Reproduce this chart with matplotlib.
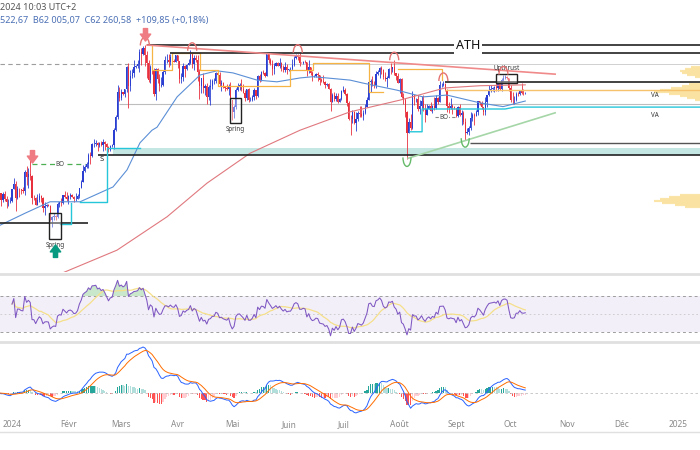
import numpy as np
import pandas as pd
import matplotlib
matplotlib.use("Agg")
import matplotlib.pyplot as plt
from matplotlib.patches import Arc, Rectangle
from matplotlib.path import Path
from matplotlib.lines import Line2D
from matplotlib.transforms import ScaledTranslation

plt.rcParams['font.family'] = ['Noto Sans', 'DejaVu Sans']

# --- Tageskerzen BTC (Tausend USD), 25.12.2023 bis 09.10.2024 ---
first_day = -7          # Tage relativ zum 01.01.2024
first_open = 42.99

close = [
    43.60, 42.50, 43.45, 42.60, 42.10, 42.15, 42.28,  # Dez
    44.18, 44.95, 42.85, 44.18, 44.16, 43.97, 43.93, 46.97, 46.12, 46.66, 46.35, 42.85, 42.84, 41.73, 42.51, 43.15,
    42.74, 41.26, 41.62, 41.66, 41.58, 39.57, 39.90, 40.08, 39.94, 41.82, 42.12, 42.03, 43.30, 42.95, 42.58,  # Jan
    43.08, 43.19, 43.00, 42.58, 42.66, 43.08, 44.34, 45.29, 47.15, 47.77, 48.29, 49.96, 49.70, 51.81, 51.91, 52.16,
    51.66, 52.12, 51.78, 52.26, 51.84, 51.30, 50.73, 51.57, 51.73, 54.52, 57.09, 62.50, 61.20,  # Feb
    62.44, 62.03, 63.17, 68.33, 63.80, 66.11, 66.93, 68.30, 68.50, 69.02, 72.12, 71.48, 73.10, 71.40, 69.40, 65.30,
    68.39, 67.61, 61.93, 67.84, 65.50, 63.80, 64.10, 67.23, 69.96, 69.99, 69.45, 70.74, 69.90, 69.65, 71.33,  # Mär
    69.70, 65.45, 65.98, 68.50, 67.84, 68.90, 69.36, 71.62, 69.15, 70.59, 70.06, 67.19, 63.82, 65.74, 63.42, 63.81,
    61.28, 63.51, 63.84, 64.94, 64.94, 66.84, 66.41, 64.29, 64.50, 63.77, 63.46, 63.12, 63.84, 60.64,  # Apr
    58.25, 59.12, 62.89, 63.89, 64.03, 63.16, 62.33, 61.19, 63.07, 60.79, 60.81, 61.45, 62.90, 61.55, 66.25, 65.23,
    67.05, 66.94, 66.28, 71.45, 70.14, 69.12, 67.93, 68.52, 69.39, 68.51, 69.39, 68.37, 67.65, 68.35, 67.49,  # Mai
    67.75, 67.76, 68.80, 70.57, 71.08, 70.79, 69.34, 69.31, 69.65, 69.50, 67.32, 68.24, 66.76, 66.01, 66.19, 66.64,
    66.49, 65.14, 64.96, 64.83, 64.10, 64.26, 63.16, 60.28, 61.80, 60.86, 61.67, 60.32, 60.89, 62.68,  # Jun
    62.85, 62.03, 60.17, 56.66, 56.64, 58.23, 55.85, 56.71, 58.05, 57.72, 57.34, 57.88, 59.20, 60.79, 64.72, 65.04,
    64.09, 63.97, 66.70, 67.15, 68.19, 67.55, 65.93, 65.37, 65.78, 67.91, 67.81, 68.26, 66.78, 66.19, 64.63,  # Jul
    65.35, 61.42, 60.68, 58.12, 53.99, 56.04, 55.03, 61.71, 60.88, 60.94, 58.71, 59.35, 60.61, 58.74, 57.56, 58.87,
    59.47, 58.48, 59.49, 59.01, 61.16, 60.38, 64.09, 64.18, 64.24, 62.83, 59.42, 59.03, 59.38, 59.12, 58.97,  # Aug
    57.33, 59.13, 57.49, 57.97, 56.16, 53.95, 54.14, 54.84, 57.02, 57.65, 57.34, 58.13, 60.57, 60.01, 59.18, 58.21,
    60.31, 61.76, 62.95, 63.20, 63.35, 63.58, 63.34, 64.26, 63.15, 65.18, 65.77, 65.86, 65.60, 63.30,  # Sep
    60.80, 60.63, 60.75, 62.08, 62.06, 62.82, 62.22, 62.15, 62.26,  # Okt
]
high = [
    43.9, 43.6, 43.7, 43.8, 43.1, 42.6, 42.9,
    44.2, 45.9, 45.5, 44.7, 44.4, 44.2, 44.5, 47.2, 47.9, 47.7, 49.0, 46.5, 43.3, 43.0, 43.4, 43.6,
    43.2, 42.9, 42.2, 41.9, 41.9, 41.7, 40.1, 40.5, 40.3, 42.2, 42.2, 42.8, 43.3, 43.9, 43.7,
    43.3, 43.5, 43.4, 43.1, 43.5, 43.4, 44.4, 45.6, 48.2, 48.2, 48.6, 50.3, 50.4, 52.0, 52.8, 52.6,
    52.2, 52.3, 52.5, 52.9, 52.4, 52.0, 51.5, 51.7, 51.9, 54.9, 57.5, 64.0, 63.7,
    63.2, 62.5, 63.2, 68.5, 69.2, 67.6, 67.9, 70.1, 68.7, 70.0, 72.8, 73.0, 73.6, 73.8, 72.4, 70.0,
    68.9, 68.9, 68.1, 68.0, 68.2, 66.6, 65.9, 67.5, 71.1, 71.6, 71.7, 71.5, 70.9, 70.3, 71.4,
    71.4, 69.7, 66.9, 69.3, 68.7, 69.0, 70.3, 72.7, 71.7, 71.2, 71.3, 71.2, 67.9, 65.8, 66.8, 64.3,
    64.5, 64.1, 65.5, 65.4, 65.7, 67.2, 67.2, 67.0, 65.3, 64.8, 63.9, 64.3, 64.2, 64.7,
    60.8, 59.6, 63.3, 64.5, 64.6, 65.5, 64.4, 62.9, 63.2, 63.4, 61.4, 61.8, 63.4, 63.0, 66.4, 66.6,
    67.4, 67.5, 67.0, 71.5, 71.9, 70.6, 70.0, 69.2, 69.5, 69.5, 70.6, 69.6, 68.9, 69.5, 69.0,
    67.8, 68.4, 70.2, 71.0, 71.7, 71.6, 71.9, 69.6, 69.9, 70.1, 69.5, 70.0, 68.4, 67.3, 66.4, 66.9,
    67.2, 66.1, 65.7, 66.5, 65.0, 64.5, 64.5, 63.4, 62.3, 62.4, 62.3, 62.2, 61.2, 63.0,
    63.8, 63.3, 62.2, 60.5, 57.5, 58.5, 58.3, 58.2, 58.3, 59.4, 59.5, 58.5, 59.8, 61.3, 64.9, 65.4,
    66.1, 65.1, 67.4, 67.6, 68.4, 68.5, 67.8, 67.1, 66.1, 68.2, 69.4, 68.3, 70.0, 66.9, 66.8,
    65.6, 65.6, 62.2, 61.1, 58.3, 57.0, 57.7, 62.7, 61.7, 61.2, 61.8, 60.7, 61.5, 61.8, 59.8, 59.8,
    59.6, 60.2, 59.6, 61.4, 61.8, 61.4, 64.9, 64.5, 65.0, 64.5, 63.2, 60.2, 61.2, 59.9, 59.4,
    59.0, 59.4, 59.8, 58.5, 58.3, 56.9, 54.9, 55.3, 58.1, 58.0, 57.9, 58.6, 60.6, 60.6, 60.4, 59.2,
    61.3, 61.8, 64.1, 64.1, 63.6, 63.9, 64.7, 64.5, 64.8, 65.8, 66.5, 66.3, 66.1, 65.6,
    64.1, 62.4, 61.5, 62.5, 62.4, 62.9, 64.5, 63.2, 62.52,
]
low = [
    42.7, 41.6, 42.1, 42.3, 41.3, 41.6, 41.97,
    42.2, 44.2, 40.8, 42.6, 42.9, 43.4, 43.6, 43.2, 44.8, 44.3, 45.6, 41.8, 42.5, 41.7, 41.7, 42.1,
    42.2, 40.7, 40.3, 41.4, 41.5, 39.4, 38.5, 39.5, 39.5, 39.8, 41.4, 41.6, 41.8, 42.7, 42.3,
    41.9, 42.6, 42.9, 42.2, 42.3, 42.6, 42.8, 44.3, 45.3, 47.0, 47.6, 47.7, 48.3, 49.5, 51.3, 51.6,
    50.6, 51.3, 51.5, 50.6, 50.8, 50.9, 50.5, 50.6, 51.3, 50.9, 54.4, 56.7, 60.4,
    60.8, 61.8, 61.3, 62.4, 59.0, 62.8, 65.6, 66.0, 68.0, 68.2, 67.2, 68.7, 71.3, 68.6, 65.6, 64.8,
    64.6, 66.6, 61.5, 60.8, 64.6, 62.8, 63.6, 63.8, 66.6, 69.3, 68.4, 68.9, 69.1, 69.6, 69.6,
    68.2, 64.6, 64.5, 65.1, 66.0, 67.5, 68.9, 69.1, 68.2, 67.5, 69.6, 65.1, 61.0, 62.3, 62.3, 61.8,
    59.8, 60.8, 59.6, 63.2, 64.3, 64.5, 65.9, 63.8, 62.8, 63.3, 62.8, 62.9, 61.8, 59.2,
    56.6, 56.9, 58.8, 62.6, 62.9, 62.8, 62.2, 60.6, 60.8, 60.2, 60.4, 60.6, 60.8, 61.0, 61.3, 64.8,
    65.1, 66.6, 65.9, 66.1, 69.2, 68.9, 66.3, 66.6, 68.5, 68.5, 68.2, 67.3, 67.1, 67.2, 66.7,
    67.4, 67.3, 67.6, 68.6, 70.2, 70.1, 68.5, 69.2, 69.1, 69.2, 66.1, 66.9, 66.3, 65.1, 65.9, 66.0,
    65.1, 64.1, 64.7, 64.5, 63.4, 63.9, 63.1, 58.4, 60.3, 60.6, 60.6, 60.0, 60.3, 60.7,
    62.5, 61.8, 59.5, 56.5, 53.5, 56.0, 55.7, 54.3, 56.3, 57.2, 57.1, 56.6, 57.8, 59.5, 60.7, 62.4,
    63.9, 63.3, 63.3, 66.5, 65.8, 66.6, 65.4, 65.1, 63.5, 65.8, 66.7, 67.0, 66.5, 65.3, 64.5,
    62.3, 61.2, 59.9, 57.2, 49.1, 53.9, 54.6, 54.8, 59.6, 60.3, 58.4, 57.7, 58.5, 58.4, 56.2, 57.7,
    58.8, 58.4, 57.9, 58.6, 58.8, 59.8, 60.3, 63.6, 63.8, 62.7, 58.1, 57.9, 58.8, 57.8, 58.7,
    57.2, 57.1, 57.4, 55.6, 55.7, 52.6, 53.7, 53.6, 54.6, 56.4, 55.6, 57.3, 57.6, 59.7, 58.7, 57.5,
    57.6, 59.2, 61.7, 62.4, 62.8, 62.4, 62.7, 62.7, 62.9, 62.7, 64.9, 65.4, 65.5, 62.8,
    60.2, 59.9, 59.8, 60.5, 61.7, 61.9, 62.1, 61.8, 62.0,
]

# Gleitende Durchschnitte (Stützstellen)
ma50_days = [-6.6, 7.1, 20.9, 37.4, 55.5, 63.2, 70.3, 76.9, 79.7, 90.7, 103.3, 112.6, 121.4, 134.6,
             145.6, 158.2, 165.4, 185.7, 192.9, 211.5, 225.8, 239, 257.1, 269.8, 282]
ma50_vals = [38.8, 40.5, 42.2, 42.2, 44.5, 47.3, 52.1, 54.5, 55.1, 61.4, 66.4, 67.4, 66.9, 65.2,
             64.8, 65.7, 66.0, 65.2, 64.5, 62.9, 61.4, 61.8, 60.1, 59.3, 60.5]
ma200_days = [20.9, 26.4, 57.7, 85.2, 107.1, 130.8, 158.2, 185.7, 213.2, 237.9, 257.1, 282]
ma200_vals = [31.7, 32.6, 35.5, 40.0, 45.1, 50.2, 54.5, 58.2, 60.7, 63.4, 63.9, 64.1]

# Volumenprofil rechts (Preis, Länge in Tagen)
vp_prices = [68.3, 67.8, 67.4, 66.9, 66.4, 65.9,
             64.3, 63.8, 63.4, 62.9, 62.5, 62.0, 61.6, 61.2, 60.7,
             43.2, 42.9, 42.6, 42.3, 42.0, 41.7, 41.4]
vp_len = [5, 8, 11, 10, 7, 3,
          6, 10, 16, 22, 25, 17, 11, 7, 3,
          11, 17, 22, 25, 21, 14, 8]

# Markierungen
arc_days = [73, 99, 157, 210, 237, 270]
arc_prices = [73.8, 72.4, 71.9, 70.0, 65.0, 66.5]
v_days = [217, 249]
v_prices = [49.1, 52.6]

month_ticks = [0, 31, 60, 91, 121, 152, 182, 213, 244, 274, 305, 335, 366]
month_labels = ["2024", "Févr", "Mars", "Avr", "Mai", "Juin", "Juil", "Août", "Sept", "Oct", "Nov", "Déc", "2025"]

# --- Berechnungen ---
c = np.array(close)
days = first_day + np.arange(len(c))
o = np.concatenate([[first_open], c[:-1]])
h = np.maximum(np.array(high), np.maximum(o, c))
l = np.minimum(np.array(low), np.minimum(o, c))

s = pd.Series(c)
delta = s.diff()
gain = delta.clip(lower=0).ewm(alpha=1 / 14, adjust=True).mean()
loss = (-delta.clip(upper=0)).ewm(alpha=1 / 14, adjust=True).mean()
rsi = 100 - 100 / (1 + gain / loss)
rsi[:7] = np.nan   # Einschwingphase ausblenden
rsi_ma = rsi.rolling(14, min_periods=1).mean()

macd = s.ewm(span=12, adjust=False).mean() - s.ewm(span=26, adjust=False).mean()
signal = macd.ewm(span=9, adjust=False).mean()
hist = macd - signal
prev = hist.shift(1).fillna(0)
hist_col = np.where(hist >= 0, np.where(hist >= prev, '#26A69A', '#B2DFDB'),
                    np.where(hist < prev, '#FF5252', '#FFCDD2'))

UP, DOWN = '#2A3FD1', '#E8303D'
cols = np.where(c >= o, UP, DOWN)

# --- Figur ---
fig = plt.figure(figsize=(7, 4.5), dpi=100)
H = 450.0
ax = fig.add_axes([0, (H - 272) / H, 1, 272 / H])
ax_rsi = fig.add_axes([0, (H - 340) / H, 1, 65 / H], sharex=ax)
ax_macd = fig.add_axes([0, (H - 418) / H, 1, 75 / H], sharex=ax)
for a in (ax, ax_rsi, ax_macd):
    for sp in a.spines.values():
        sp.set_visible(False)
    a.tick_params(left=False, labelleft=False, bottom=False, labelbottom=False)
    a.set_xlim(-6.6, 378)

ax.set_yscale('log')
ax.set_ylim(32.83, 86.82)
ax.yaxis.set_major_locator(plt.NullLocator())
ax.yaxis.set_minor_locator(plt.NullLocator())

# Kerzen
ax.vlines(days, l, h, colors=cols, lw=0.6, zorder=2)
ax.bar(days, np.abs(c - o), bottom=np.minimum(o, c), width=0.66, color=cols, linewidth=0, zorder=2)

# MAs
ax.plot(ma50_days, ma50_vals, color='#5B8FD6', lw=0.8, zorder=3)
ax.plot(ma200_days, ma200_vals, color='#E0787E', lw=0.8, zorder=3)

# Zonen / Linien
END = 378
ax.axhspan(49.9, 51.1, xmin=(55.5 + 6.6) / (END + 6.6), xmax=1, color='#B2DFDB', alpha=0.75, lw=0, zorder=1)
ax.hlines(73.9, 74.2, END, color='#222222', lw=1.2, zorder=4)
ax.text(250.5, 73.9, "ATH", fontsize=9, ha='center', va='center', color='#111111', zorder=5,
        bbox=dict(facecolor='white', edgecolor='none', pad=1.5))
ax.hlines(71.8, 86.8, END, color='#222222', lw=1.2, zorder=4)
ax.hlines(64.8, 237.9, END, color='#222222', lw=1.2, zorder=4)
ax.hlines(52.1, 251.6, END, color='#555555', lw=1.0, zorder=4)
ax.hlines(49.9, 47.3, END, color='#222222', lw=1.2, zorder=4)
ax.hlines(39.1, -6.6, 41.8, color='#222222', lw=1.2, zorder=4)
ax.hlines(59.9, 59, END, color='#BDBDBD', lw=0.8, zorder=1)
ax.hlines(69.1, -6.6, 65, color='#9E9E9E', lw=0.8, linestyles=(0, (4, 3)), zorder=1)
ax.hlines(69.1, 65, END, color='#D0D0D0', lw=0.7, zorder=1)

# BO-Linien
ax.hlines(48.3, 11, 40.1, color='#4CAF50', lw=0.9, linestyles=(0, (4, 3)), zorder=4)
ax.text(26.4, 48.3, "BO", fontsize=4.5, ha='center', va='center', color='#444444', zorder=5,
        bbox=dict(facecolor='white', edgecolor='none', pad=0.5))
ax.hlines(57.1, 232.4, 244.5, color='#888888', lw=0.8, linestyles=(0, (3, 2)), zorder=4)
ax.text(237.5, 57.1, "BO", fontsize=4.5, ha='center', va='center', color='#444444', zorder=5,
        bbox=dict(facecolor='white', edgecolor='none', pad=0.5))

# Cyan Stufen
ax.plot([26.4, 32.4, 32.4], [39.0, 39.0, 42.0], color='#26C6DA', lw=1.0, zorder=4)
ax.plot([37.4, 52.2, 52.2, 70.3], [42.2, 42.2, 51.1, 51.1], color='#26C6DA', lw=1.0, zorder=4)
ax.plot([218.7, 225.3, 225.3, 270.9, 276.4, END], [54.2, 54.2, 58.8, 58.8, 59.2, 59.2],
        color='#26C6DA', lw=1.0, zorder=4)
ax.text(49.5, 49.0, "S", fontsize=5.5, ha='center', va='center', color='#222222', zorder=5)

# Orange Range-Linien
ax.plot([76.9, 76.9, 87.9, 87.9, 103.3, 103.3, 113.2, 113.2, 152.7, 152.7, 165.4, 165.4, 196.2, 196.2, 203.8],
        [73.7, 67.6, 67.6, 71.8, 71.8, 67.6, 67.6, 63.8, 63.8, 67.6, 67.6, 69.3, 69.3, 62.5, 62.5],
        color='#F6B444', lw=0.9, zorder=3)
ax.plot([212.1, 236.3, 236.3], [67.8, 67.8, 65.2], color='#F6B444', lw=0.9, zorder=3)
ax.hlines(63.0, 238, END, color='#F6C26B', lw=1.0, zorder=3)

# Trendlinien
ax.plot([74.2, 298.4], [73.9, 66.6], color='#F08A8A', lw=1.2, zorder=4)
ax.plot([217.6, 298.4], [49.3, 58.0], color='#A5D6A7', lw=1.2, zorder=4)

# Volumenprofil
ax.hlines(vp_prices, END - np.array(vp_len), END, color='#F7CF5F', lw=1.6, alpha=0.55, zorder=1)

# Boxen
for (d0, d1, p0, p1) in [(20.3, 26.9, 37.0, 40.5), (119.8, 125.8, 55.9, 61.2), (265.9, 277.5, 64.5, 66.6)]:
    ax.add_patch(Rectangle((d0, p0), d1 - d0, p1 - p0, facecolor=(1, 1, 1, 0.35),
                           edgecolor='#222222', lw=1.0, zorder=5))
ax.text(23.6, 36.6, "Spring", fontsize=4.5, ha='center', va='top', color='#333333', zorder=5)
ax.text(122.8, 55.3, "Spring", fontsize=4.5, ha='center', va='top', color='#333333', zorder=5)
ax.text(271.7, 67.0, "Upthrust", fontsize=4.5, ha='center', va='bottom', color='#333333', zorder=5)
ax.text(353.3, 61.8, "VA", fontsize=4.5, ha='center', va='center', color='#333333', zorder=5)
ax.text(353.3, 57.5, "VA", fontsize=4.5, ha='center', va='center', color='#333333', zorder=5)

# Bögen über Hochs / unter Tiefs
for d, p in zip(arc_days, arc_prices):
    tr = fig.dpi_scale_trans + ScaledTranslation(d, p, ax.transData)
    ax.add_patch(Arc((0, 0), 0.09, 0.16, theta1=0, theta2=180, transform=tr, color='#E57373', lw=1.0, zorder=6))
for d, p in zip(v_days, v_prices):
    tr = fig.dpi_scale_trans + ScaledTranslation(d, p, ax.transData)
    ax.add_patch(Arc((0, 0.02), 0.08, 0.18, theta1=180, theta2=360, transform=tr, color='#66BB6A', lw=1.0, zorder=6))

# Pfeile
down_arrow = Path([(-0.3, 1), (0.3, 1), (0.3, 0.2), (0.75, 0.2), (0, -0.8), (-0.75, 0.2), (-0.3, 0.2), (-0.3, 1)],
                  closed=True)
up_arrow = Path([(-0.3, -1), (0.3, -1), (0.3, -0.2), (0.75, -0.2), (0, 0.8), (-0.75, -0.2), (-0.3, -0.2), (-0.3, -1)],
                closed=True)
ax.plot([73.1, 11], [76.6, 49.5], ls='none', marker=down_arrow, ms=10, color='#EF7B83', zorder=6)
ax.plot([23.6], [35.5], ls='none', marker=up_arrow, ms=10, color='#089981', zorder=6)

# --- RSI ---
ax_rsi.set_ylim(21.1, 93.3)
ax_rsi.axhspan(30, 70, color='#7E57C2', alpha=0.09, lw=0)
ax_rsi.axhline(70, color='#9E9E9E', lw=0.7, ls=(0, (3, 3)))
ax_rsi.axhline(30, color='#9E9E9E', lw=0.7, ls=(0, (3, 3)))
ax_rsi.axhline(50, color='#C8C8C8', lw=0.6, ls=(0, (2, 3)))
ok = rsi.notna().values
ax_rsi.fill_between(days[ok], 70, rsi[ok], where=rsi[ok] >= 70, interpolate=True, color='#66BB6A', alpha=0.35, lw=0)
ax_rsi.plot(days, rsi_ma, color='#F5E08A', lw=0.9)
ax_rsi.plot(days, rsi, color='#7E57C2', lw=0.75)

# --- MACD ---
kpx = macd.max() / 46.0   # Nulllinie bei y=393 px, Spitze bei y=347 px
ax_macd.set_ylim(-25 * kpx, 50 * kpx)
ax_macd.axhline(0, color='#C0C0C0', lw=0.6, ls=(0, (3, 3)))
ax_macd.bar(days, hist, width=0.7, color=hist_col, linewidth=0)
ax_macd.plot(days, macd, color='#2962FF', lw=0.7)
ax_macd.plot(days, signal, color='#FF6D00', lw=0.7)
ax_macd.set_xticks(month_ticks)
ax_macd.set_xticklabels(month_labels)
ax_macd.tick_params(labelbottom=True, length=0, pad=1.5, labelsize=6, labelcolor='#8A8A8A')

# Trennlinien
for yy, lw in [(274, 2.0), (341.5, 2.0), (432, 1.0)]:
    fig.add_artist(Line2D([0, 1], [1 - yy / H, 1 - yy / H], transform=fig.transFigure, color='#E0E0E0', lw=lw))

# Kopfzeile
fig.text(0.0, 1 - 7 / H, "2024 10:03 UTC+2", fontsize=6.5, color='#555555', va='center')
fig.text(0.0, 1 - 20 / H, "522,67  B62 005,07  C62 260,58  +109,85 (+0,18%)", fontsize=6.5,
         color='#4A6FB5', va='center')

fig.savefig("out.png", dpi=100, facecolor='white')
